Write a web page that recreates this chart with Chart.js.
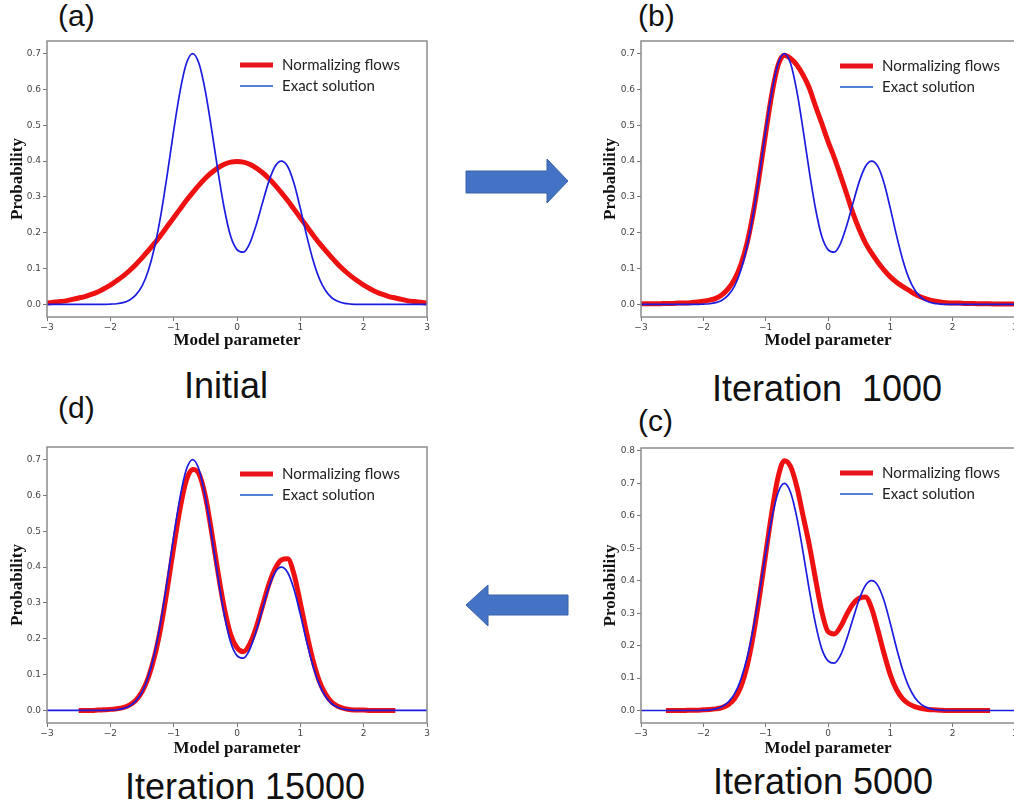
<!DOCTYPE html>
<html lang="en">
<head>
  <meta charset="UTF-8">
  <title>Normalizing flows vs exact solution</title>
  <script src="https://cdn.jsdelivr.net/npm/chart.js"></script>
  <style>
    html, body {
      margin: 0;
      padding: 0;
      width: 1014px;
      height: 807px;
      overflow: hidden;
      background: #ffffff;
    }
    canvas, .txt, svg {
      position: absolute;
    }
    .panelTag {
      font-family: "Liberation Sans", Arial, sans-serif;
      font-size: 30px;
      line-height: 30px;
      color: #111;
    }
    .caption {
      font-family: "Liberation Sans", Arial, sans-serif;
      font-size: 36px;
      line-height: 36px;
      color: #111;
      width: 400px;
      text-align: center;
      white-space: pre;
    }
  </style>
</head>
<body>
  <div class="txt panelTag" style="left:58px; top:1px;">(a)</div>
  <div class="txt panelTag" style="left:638px; top:1px;">(b)</div>
  <div class="txt panelTag" style="left:638px; top:406px;">(c)</div>
  <div class="txt panelTag" style="left:58px; top:393px;">(d)</div>

  <div class="txt caption" style="left:26px; top:368px;">Initial</div>
  <div class="txt caption" style="left:627px; top:371px;">Iteration  1000</div>
  <div class="txt caption" style="left:623px; top:764px;">Iteration 5000</div>
  <div class="txt caption" style="left:45px; top:769px;">Iteration 15000</div>

  <svg width="1014" height="807" style="left:0; top:0;">
    <polygon points="466,171 547,171 547,159 568,181 547,203 547,193 466,193"
             fill="#4472c4" stroke="#3a62a8" stroke-width="1"/>
    <polygon points="568,595 488,595 488,585 466,605 488,626 488,615 568,615"
             fill="#4472c4" stroke="#3a62a8" stroke-width="1"/>
  </svg>

  <canvas id="chartA" width="432" height="320" style="left:0px; top:31px;"></canvas>
  <canvas id="chartB" width="430" height="320" style="left:590px; top:31px;"></canvas>
  <canvas id="chartD" width="432" height="322" style="left:0px; top:437px;"></canvas>
  <canvas id="chartC" width="430" height="321" style="left:590px; top:438px;"></canvas>

  <script>
    // Model parameter grid (same for all panels)
    const xs = [-3.0,-2.9,-2.8,-2.7,-2.6,-2.5,-2.4,-2.3,-2.2,-2.1,
                -2.0,-1.9,-1.8,-1.7,-1.6,-1.5,-1.4,-1.3,-1.2,-1.1,
                -1.0,-0.9,-0.8,-0.7,-0.6,-0.5,-0.4,-0.3,-0.2,-0.1,
                 0.0, 0.1, 0.2, 0.3, 0.4, 0.5, 0.6, 0.7, 0.8, 0.9,
                 1.0, 1.1, 1.2, 1.3, 1.4, 1.5, 1.6, 1.7, 1.8, 1.9,
                 2.0, 2.1, 2.2, 2.3, 2.4, 2.5, 2.6, 2.7, 2.8, 2.9, 3.0];

    // Exact solution (blue), identical in the four panels
    const exactSolution = [0,0,0,0,0,0,0,0,0,0,
      0.001,0.002,0.005,0.012,0.026,0.051,0.095,0.161,0.252,0.364,
      0.485,0.594,0.672,0.700,0.672,0.595,0.488,0.371,0.267,0.190,
      0.153,0.146,0.170,0.220,0.282,0.342,0.385,0.400,0.385,0.338,
      0.268,0.192,0.124,0.072,0.038,0.018,0.008,0.003,0.001,0,
      0,0,0,0,0,0,0,0,0,0,0];

    // Normalizing flows (red) at each stage
    const flowInitial = [0.004,0.006,0.008,0.010,0.014,0.018,0.022,0.028,0.035,0.044,
      0.054,0.066,0.079,0.094,0.111,0.130,0.150,0.171,0.194,0.218,
      0.242,0.266,0.290,0.312,0.333,0.352,0.368,0.381,0.391,0.397,
      0.399,0.397,0.391,0.381,0.368,0.352,0.333,0.312,0.290,0.266,
      0.242,0.218,0.194,0.171,0.150,0.130,0.111,0.094,0.079,0.066,
      0.054,0.044,0.035,0.028,0.022,0.018,0.014,0.010,0.008,0.006,0.004];

    const flow1000 = [0.002,0.002,0.002,0.002,0.003,0.003,0.004,0.004,0.005,0.007,
      0.009,0.012,0.017,0.027,0.044,0.070,0.110,0.170,0.255,0.362,
      0.478,0.588,0.668,0.695,0.686,0.668,0.640,0.604,0.553,0.505,
      0.455,0.410,0.360,0.308,0.255,0.210,0.172,0.143,0.118,0.096,
      0.077,0.062,0.050,0.039,0.028,0.020,0.014,0.010,0.007,0.005,
      0.004,0.004,0.003,0.003,0.002,0.002,0.002,0.001,0.001,0.001,0.001];

    const flow5000 = [null,null,null,null,0,0,0,0,0.001,0.001,
      0.002,0.003,0.005,0.009,0.018,0.036,0.072,0.135,0.230,0.350,
      0.482,0.612,0.720,0.770,0.752,0.690,0.600,0.510,0.405,0.305,
      0.243,0.236,0.258,0.296,0.328,0.346,0.350,0.315,0.248,0.175,
      0.110,0.064,0.036,0.020,0.011,0.006,0.003,0.002,0.001,0,
      0,0,0,0,0,0,0,null,null,null,null];

    const flow15000 = [null,null,null,null,null,0,0,0,0.001,0.002,
      0.003,0.005,0.008,0.015,0.028,0.052,0.092,0.152,0.235,0.340,
      0.455,0.562,0.642,0.672,0.660,0.598,0.497,0.385,0.285,0.212,
      0.175,0.164,0.185,0.230,0.290,0.350,0.395,0.420,0.423,0.380,
      0.300,0.215,0.140,0.082,0.045,0.022,0.011,0.005,0.002,0.001,
      0.001,0,0,0,0,0,null,null,null,null,null];

    const xTicks = [-3, -2, -1, 0, 1, 2, 3];
    const yTicksLow = [0, 0.1, 0.2, 0.3, 0.4, 0.5, 0.6, 0.7];
    const yTicksHigh = [0, 0.1, 0.2, 0.3, 0.4, 0.5, 0.6, 0.7, 0.8];

    const seriesNames = ['Normalizing flows', 'Exact solution'];

    // frame around the axes + legend drawn inside the plot area
    const panelDecor = {
      id: 'panelDecor',
      afterDatasetsDraw(chart, args, opts) {
        const { ctx, chartArea: a } = chart;
        ctx.save();
        ctx.strokeStyle = '#8c8c8c';
        ctx.lineWidth = 1.5;
        ctx.strokeRect(a.left, a.top, a.right - a.left, a.bottom - a.top);

        ctx.font = '15px Lato';
        ctx.textBaseline = 'middle';
        ctx.textAlign = 'left';
        chart.data.datasets.forEach((ds, i) => {
          const y = a.top + opts.y + i * 21;
          const x0 = a.left + opts.x;
          ctx.strokeStyle = ds.legendColor;
          ctx.lineWidth = i === 0 ? 5 : 2;
          ctx.beginPath();
          ctx.moveTo(x0, y);
          ctx.lineTo(x0 + 33, y);
          ctx.stroke();
          ctx.fillStyle = '#222';
          ctx.fillText(ds.label, x0 + 42, y);
        });
        ctx.restore();
      }
    };

    function toPoints(values) {
      return xs.map((x, i) => ({ x: x, y: values[i] }));
    }

    function makePanel(id, flowValues, opts) {
      const ctx = document.getElementById(id).getContext('2d');
      return new Chart(ctx, {
        type: 'line',
        data: {
          datasets: [
            {
              label: seriesNames[0],
              data: toPoints(flowValues),
              borderColor: '#ee1111',
              legendColor: '#e8141c',
              borderWidth: 5,
              pointRadius: 0,
              cubicInterpolationMode: 'monotone',
              order: 1
            },
            {
              label: seriesNames[1],
              data: toPoints(exactSolution),
              borderColor: '#1c1ce0',
              legendColor: '#4d82d2',
              borderWidth: 1.7,
              pointRadius: 0,
              cubicInterpolationMode: 'monotone',
              order: 0
            }
          ]
        },
        options: {
          responsive: false,
          animation: false,
          spanGaps: false,
          layout: { padding: { top: 10, right: 5, left: 0, bottom: 0 } },
          plugins: {
            legend: { display: false },
            tooltip: { enabled: false },
            panelDecor: { x: opts.legendX, y: opts.legendY }
          },
          scales: {
            x: {
              type: 'linear',
              min: -3,
              max: 3,
              afterBuildTicks: s => { s.ticks = xTicks.map(v => ({ value: v })); },
              afterFit: s => { s.height = opts.xHeight; },
              grid: { display: true, drawOnChartArea: false, drawTicks: true, tickLength: 4, color: '#777' },
              border: { display: false },
              ticks: {
                padding: 1,
                maxRotation: 0,
                color: '#444',
                font: { family: 'DejaVu Sans', size: 9 },
                callback: v => (v < 0 ? '\u2212' + Math.abs(v) : String(v))
              },
              title: {
                display: true,
                text: 'Model parameter',
                color: '#111',
                padding: { top: 0, bottom: 0 },
                font: { family: 'Liberation Serif', size: 17, weight: 'bold' }
              }
            },
            y: {
              min: opts.yMin,
              max: opts.yMax,
              afterBuildTicks: s => { s.ticks = opts.yTicks.map(v => ({ value: v })); },
              afterFit: s => { s.width = opts.yWidth; },
              grid: { display: true, drawOnChartArea: false, drawTicks: true, tickLength: 4, color: '#777' },
              border: { display: false },
              ticks: {
                padding: 2,
                color: '#444',
                font: { family: 'DejaVu Sans', size: 9 },
                callback: v => v.toFixed(1)
              },
              title: {
                display: true,
                text: 'Probability',
                color: '#111',
                padding: { top: opts.yTitlePad, bottom: 0 },
                font: { family: 'Liberation Serif', size: 17, weight: 'bold' }
              }
            }
          }
        },
        plugins: [panelDecor]
      });
    }

    makePanel('chartA', flowInitial, {
      yMin: -0.035, yMax: 0.735, yTicks: yTicksLow,
      yWidth: 47, yTitlePad: 7, xHeight: 34, legendX: 193, legendY: 24
    });
    makePanel('chartB', flow1000, {
      yMin: -0.035, yMax: 0.735, yTicks: yTicksLow,
      yWidth: 51, yTitlePad: 10, xHeight: 34, legendX: 199, legendY: 25
    });
    makePanel('chartD', flow15000, {
      yMin: -0.035, yMax: 0.735, yTicks: yTicksLow,
      yWidth: 47, yTitlePad: 7, xHeight: 36, legendX: 193, legendY: 27
    });
    makePanel('chartC', flow5000, {
      yMin: -0.0385, yMax: 0.809, yTicks: yTicksHigh,
      yWidth: 51, yTitlePad: 10, xHeight: 36, legendX: 199, legendY: 25
    });
  </script>
</body>
</html>
